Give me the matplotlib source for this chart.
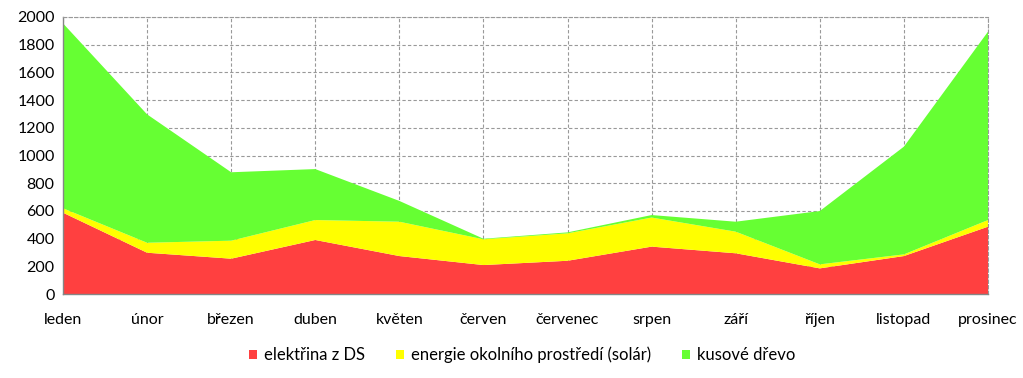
import numpy as np
import matplotlib
matplotlib.use('Agg')
import matplotlib.pyplot as plt

plt.rcParams['font.family'] = ['Lato', 'DejaVu Sans']

# Data
months = ['leden', 'únor', 'březen', 'duben', 'květen', 'červen',
          'červenec', 'srpen', 'září', 'říjen', 'listopad', 'prosinec']
elektrina = [587, 298, 255, 390, 274, 209, 240, 342, 294, 185, 274, 486]
solar = [32, 72, 130, 144, 248, 186, 198, 210, 156, 29, 12, 48]
drevo = [1335, 927, 494, 368, 150, 4, 7, 18, 72, 385, 778, 1360]

labels = ['elektřina z DS', 'energie okolního prostředí (solár)', 'kusové dřevo']
colors = ['#ff4040', '#ffff00', '#66ff33']

fig = plt.figure(figsize=(10.23, 3.78), dpi=100)
ax = fig.add_axes([63 / 1023, (378 - 294) / 378, 925 / 1023, 277 / 378])

x = np.arange(len(months))
ax.stackplot(x, elektrina, solar, drevo, colors=colors, labels=labels,
             linewidth=0, zorder=2)

ax.set_xlim(0, len(months) - 1)
ax.set_ylim(0, 2000)
ax.set_yticks(np.arange(0, 2001, 200))
ax.set_xticks(x)
ax.set_xticklabels(months)
ax.tick_params(axis='both', length=0, labelsize=11.5, colors='#000000')
ax.tick_params(axis='x', pad=14)
ax.tick_params(axis='y', pad=6)

ax.grid(True, color='#999999', linestyle=(0, (3, 2)), linewidth=0.8, zorder=1)
ax.set_axisbelow(True)
for side in ['top', 'right']:
    ax.spines[side].set_color('#999999')
    ax.spines[side].set_linestyle((0, (3, 2)))
    ax.spines[side].set_linewidth(0.8)
for side in ['left', 'bottom']:
    ax.spines[side].set_color('#868686')
    ax.spines[side].set_linewidth(1)

fig.legend(loc='center', bbox_to_anchor=(522 / 1023, 1 - 355 / 378), ncol=3,
           frameon=False, fontsize=12, handlelength=0.48, handleheight=0.48,
           handletextpad=0.42, columnspacing=1.85)

plt.savefig('out.png', dpi=100)
